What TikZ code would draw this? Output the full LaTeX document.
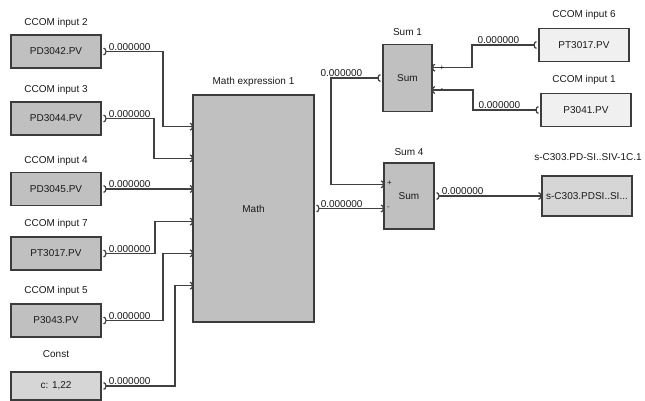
\documentclass[tikz,border=0pt]{standalone}
\usepackage{fontspec}
\setmainfont{Liberation Sans}
\usetikzlibrary{arrows.meta,calc}
\definecolor{linec}{HTML}{404040}
\definecolor{boxd}{HTML}{C0C0C0}
\definecolor{boxl}{HTML}{F0F0F0}
\definecolor{boxm}{HTML}{D6D6D6}
\definecolor{bord}{HTML}{3C3C3C}
\definecolor{txt}{HTML}{1A1A1A}
\begin{document}
\begin{tikzpicture}[x=1pt,y=-1pt,
  font=\fontsize{10}{12}\selectfont,
  blk/.style={draw=bord,line width=1.1pt,fill=boxd,minimum width=90pt,minimum height=33pt,inner sep=0pt,text=txt},
  ttl/.style={inner sep=0pt,text=txt},
  val/.style={inner sep=1pt,anchor=south west,text=txt},
  valw/.style={inner sep=1pt,anchor=south east,text=txt},
  sgn/.style={inner sep=0pt,text=txt,font=\fontsize{8}{9}\selectfont},
  conn/.style={draw=linec,line width=1.2pt,{Arc Barb[reversed,length=3pt,width=8pt]}-{Arc Barb[length=3pt,width=8pt]},shorten <=2pt},
]
\useasboundingbox (0,0) rectangle (645,400);

% left input blocks
\node[blk] (b1) at (56,51.5) {PD3042.PV};
\node[ttl] (t1) at (56,22.7) {CCOM input 2};
\node[blk] (b2) at (56,118.5) {PD3044.PV};
\node[ttl] (t2) at (56,90) {CCOM input 3};
\node[blk] (b3) at (56,189) {PD3045.PV};
\node[ttl] (t3) at (56,161) {CCOM input 4};
\node[blk] (b4) at (56,253.5) {PT3017.PV};
\node[ttl] (t4) at (56,224) {CCOM input 7};
\node[blk] (b5) at (56,320.5) {P3043.PV};
\node[ttl] (t5) at (56,291) {CCOM input 5};
\node[blk,fill=boxm,minimum height=28pt] (b6) at (56,386) {c: 1,22};
\node[ttl] (t6) at (56,354) {Const};

% math block
\node[blk,minimum width=121pt,minimum height=227pt] (m) at (253.5,208.5) {Math};
\node[ttl] (tm) at (253.5,81.7) {Math expression 1};
\coordinate (m1) at (193,126.7);
\coordinate (m2) at (193,158.3);
\coordinate (m3) at (193,189);
\coordinate (m4) at (193,221.7);
\coordinate (m5) at (193,253.3);
\coordinate (m6) at (193,285.7);

% sum blocks
\node[blk,minimum width=49pt,minimum height=67pt] (s1) at (407.5,78) {Sum};
\node[ttl] (ts1) at (407.5,32.3) {Sum 1};
\coordinate (s1p) at (432,67.7);
\coordinate (s1m) at (432,90);
\node[blk,minimum width=50pt,minimum height=66pt] (s4) at (409,196) {Sum};
\node[ttl] (ts4) at (409,151.7) {Sum 4};
\coordinate (s4p) at (384,184.3);
\coordinate (s4m) at (384,208.5);

% right blocks
\node[blk,fill=boxl] (r1) at (584,45) {PT3017.PV};
\node[ttl] (tr1) at (584,15) {CCOM input 6};
\node[blk,fill=boxl] (r2) at (586,110) {P3041.PV};
\node[ttl] (tr2) at (584,80) {CCOM input 1};
\node[blk,fill=boxm,minimum height=40pt] (o) at (587,196) {s-C303.PDSI..SI...};
\node[ttl] (to) at (588,156.7) {s-C303.PD-SI..SIV-1C.1};

% connectors into math
\draw[conn] (b1.east) -| ([xshift=-30pt]m1) -- (m1);
\draw[conn] (b2.east) -| ([xshift=-39pt]m2) -- (m2);
\draw[conn] (b3.east) -- (m3);
\draw[conn] (b4.east) -| ([xshift=-38pt]m4) -- (m4);
\draw[conn] (b5.east) -| ([xshift=-30pt]m5) -- (m5);
\draw[conn] (b6.east) -| ([xshift=-18pt]m6) -- (m6);
\foreach \b in {b1,b2,b3,b4,b5,b6}{\node[val] at ([xshift=6pt]\b.east) {0.000000};}

% math -> sum4
\draw[conn] (m.east) -- (s4m);
\node[val] at ([xshift=5pt]m.east) {0.000000};
% sum1 -> sum4
\draw[conn] (s1.west) -| ([xshift=-53pt]s4p) -- (s4p);
\node[valw] at ([xshift=-19pt]s1.west) {0.000000};
% right inputs -> sum1
\draw[conn] (r1.west) -| ([xshift=40pt]s1p) -- (s1p);
\node[valw] at ([xshift=-18pt]r1.west) {0.000000};
\draw[conn] (r2.west) -| ([xshift=41pt]s1m) -- (s1m);
\node[valw] at ([xshift=-19pt]r2.west) {0.000000};
% sum4 -> output
\draw[conn] (s4.east) -- (o.west);
\node[val] at ([xshift=6pt]s4.east) {0.000000};

% signs
\node[sgn] at ([xshift=10pt]s1p) {+};
\node[sgn] at ([xshift=10pt]s1m) {-};
\node[sgn,anchor=west] at ([xshift=3pt,yshift=1pt]s4p) {+};
\node[sgn,anchor=west] at ([xshift=3pt]s4m) {-};
\end{tikzpicture}
\end{document}
